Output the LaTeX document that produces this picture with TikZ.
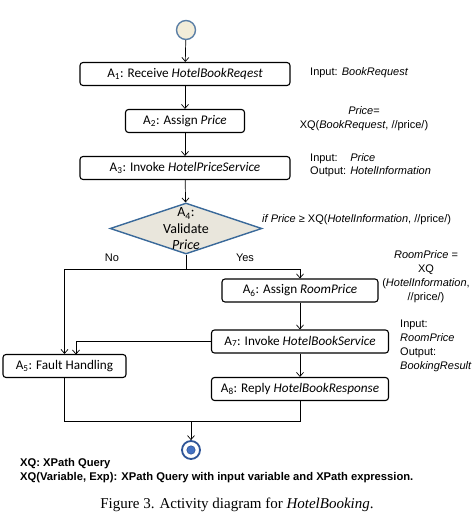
\documentclass[tikz,border=0pt]{standalone}
\usepackage{fontspec}
\setmainfont{Liberation Serif}
\setsansfont{Liberation Sans}
\newfontfamily\boxfont{Carlito}
\usetikzlibrary{arrows.meta,shapes.geometric}
\definecolor{startfill}{HTML}{F3EDD9}
\definecolor{startline}{HTML}{5B7FA6}
\definecolor{decfill}{HTML}{E9E6DC}
\definecolor{decline}{HTML}{3B6A9A}
\definecolor{endblue}{HTML}{2F5597}
\definecolor{dotblue}{HTML}{4472C4}
\begin{document}
\begin{tikzpicture}[x=1pt,y=1pt]
    \tikzstyle{every node}+=[inner sep=0pt]
    \tikzstyle{act}=[draw, black, line width=1.1pt, rounded corners=3pt, minimum height=23pt, font=\boxfont\fontsize{13.2}{15}\selectfont]
    \tikzstyle{note}=[font=\sffamily\fontsize{11}{14}\selectfont]
    \tikzstyle{flow}=[-{Straight Barb[length=4pt,width=7pt]}, line width=0.7pt]
    \useasboundingbox (0,0) rectangle (474,-514);
    \node [circle, draw=startline, fill=startfill, line width=1.4pt, minimum size=19pt] (start) at (186,-30) {};
    \node [act, minimum width=210pt] (a1) at (185,-74) {A\textsubscript{1}: Receive \textit{HotelBookReqest}};
    \node [act, minimum width=119pt] (a2) at (185,-121) {A\textsubscript{2}: Assign \textit{Price}};
    \node [act, minimum width=210pt] (a3) at (185,-168) {A\textsubscript{3}: Invoke \textit{HotelPriceService}};
    \node [diamond, draw=decline, fill=decfill, line width=1.4pt, minimum width=152pt, minimum height=51pt] (a4) at (186,-228.5) {};
    \node [align=center, font=\boxfont\fontsize{14}{16.5}\selectfont] (a4text) at (186,-229) {A\textsubscript{4}:\\Validate\\\textit{Price}};
    \node [act, minimum width=123pt] (a5) at (64.5,-366) {A\textsubscript{5}: Fault Handling};
    \node [act, minimum width=156pt] (a6) at (300,-290.5) {A\textsubscript{6}: Assign \textit{RoomPrice}};
    \node [act, minimum width=177pt] (a7) at (300,-341.5) {A\textsubscript{7}: Invoke \textit{HotelBookService}};
    \node [act, minimum width=177pt] (a8) at (300,-389) {A\textsubscript{8}: Reply \textit{HotelBookResponse}};
    \node [circle, draw=endblue, fill=white, line width=1.8pt, minimum size=18pt] (end) at (191,-450) {};
    \fill [dotblue, draw=endblue, line width=0.6pt] (end.center) circle (4.2pt);
    \node [note, anchor=west] (n1) at (310,-73) {Input: \textit{BookRequest}};
    \node [note, align=center] (n2) at (364,-119) {\textit{Price}=\\XQ(\textit{BookRequest}, //price/)};
    \node [note, anchor=west] (n3) at (310,-165.5) {\renewcommand{\arraystretch}{0.95}\begin{tabular}{@{}l@{\hspace{4pt}}l@{}}Input: & \textit{Price}\\Output: & \textit{HotelInformation}\end{tabular}};
    \node [note, anchor=west] (n4) at (262,-220) {\textit{if Price} ≥ XQ(\textit{HotelInformation}, //price/)};
    \node [note] (no) at (112,-258) {No};
    \node [note] (yes) at (245,-258) {Yes};
    \node [note, align=center] (n6) at (426,-276.5) {\textit{RoomPrice} =\\XQ\\(\textit{HotelInformation},\\//price/)};
    \node [note, align=left, anchor=west] (n7) at (400,-346) {Input:\\\textit{RoomPrice}\\Output:\\\textit{BookingResult}};
    \node [anchor=west, font=\sffamily\bfseries\fontsize{11.2}{13}\selectfont] (key1) at (20,-464) {XQ: XPath Query};
    \node [anchor=west, font=\sffamily\bfseries\fontsize{11.2}{13}\selectfont] (key2) at (20,-478) {XQ(Variable, Exp): XPath Query with input variable and XPath expression.};
    \node [font=\fontsize{15}{17}\selectfont] (caption) at (237,-505) {Figure 3. Activity diagram for \textit{HotelBooking}.};
    \coordinate (split) at (186,-269);
    \coordinate (a5in) at (76,-354.5);
    \coordinate (join) at (191,-421);
    \draw [flow] (start) -- (a1);
    \draw [flow] (a1) -- (a2);
    \draw [flow] (a2) -- (a3);
    \draw [flow] (a3) -- (a4);
    \draw [line width=0.7pt] (a4.south) -- (split);
    \draw [flow] (split) -| (a5.north);
    \draw [flow] (split) -| (a6.north);
    \draw [flow] (a6) -- (a7);
    \draw [flow] (a7.west) -| (a5in);
    \draw [flow] (a7) -- (a8);
    \draw [line width=0.7pt] (a5.south) |- (join);
    \draw [line width=0.7pt] (a8.south) |- (join);
    \draw [flow] (join) -- (end);
\end{tikzpicture}
\end{document}
